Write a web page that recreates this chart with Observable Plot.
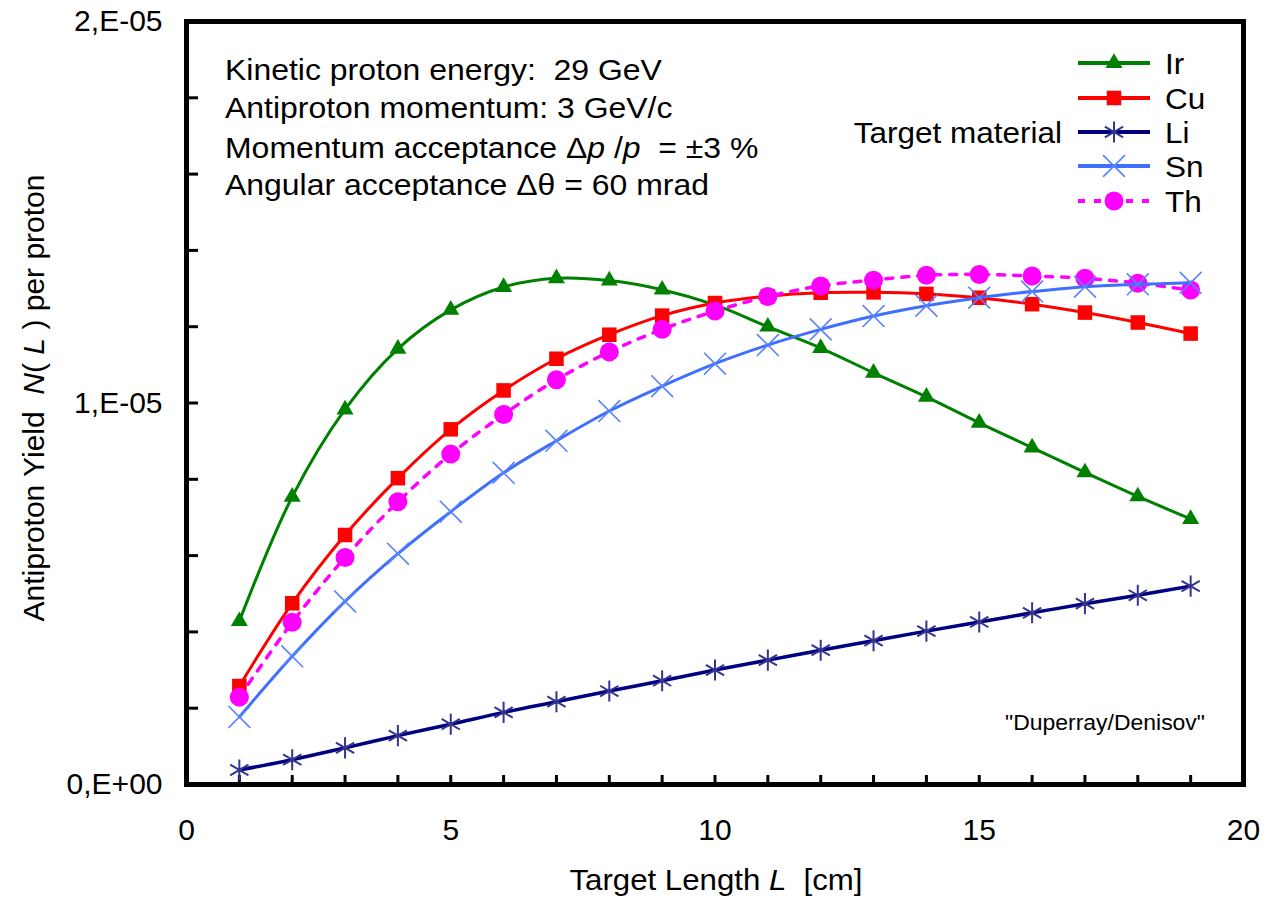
<!DOCTYPE html>
<html>
<head>
<meta charset="utf-8">
<script src="https://cdn.jsdelivr.net/npm/d3@7"></script>
<script src="https://cdn.jsdelivr.net/npm/@observablehq/plot@0.6"></script>
<style>
  html, body { margin: 0; padding: 0; background: #fff; }
  #wrap { position: relative; width: 1266px; height: 902px; font-family: "Liberation Sans", Arial, sans-serif; }
  #overlay { position: absolute; left: 0; top: 0; pointer-events: none; }
  text { white-space: pre; }
</style>
</head>
<body>
<div id="wrap"><div id="chart"></div></div>
<script>
// ---- data (values in units of 1e-6 antiprotons per proton) ----
const targetLength = [1,2,3,4,5,6,7,8,9,10,11,12,13,14,15,16,17,18,19];
const ir = [4.28,7.54,9.83,11.42,12.44,13.04,13.27,13.21,12.97,12.57,12.00,11.44,10.79,10.16,9.48,8.83,8.18,7.55,6.96];
const cu = [2.58,4.75,6.54,8.03,9.31,10.33,11.16,11.79,12.29,12.62,12.80,12.89,12.90,12.86,12.76,12.59,12.37,12.11,11.82];
const li = [0.38,0.65,0.96,1.28,1.58,1.89,2.17,2.45,2.72,3.00,3.26,3.52,3.77,4.02,4.26,4.50,4.74,4.96,5.20];
const sn = [1.77,3.36,4.80,6.05,7.15,8.17,9.01,9.79,10.44,11.03,11.52,11.93,12.28,12.55,12.76,12.92,13.05,13.11,13.15];
const th = [2.29,4.25,5.95,7.41,8.66,9.70,10.61,11.34,11.93,12.41,12.79,13.07,13.22,13.35,13.37,13.33,13.27,13.14,12.96];

const seriesNames = ["Ir","Cu","Li","Sn","Th"];
const seriesColors = {Ir:"#008000", Cu:"#ff0000", Li:"#000080", Sn:"#3f6fff", Th:"#ff00ff"};

const xTickValues = [0,5,10,15,20];
const xMinorTicks = [1,2,3,4,5,6,7,8,9,10,11,12,13,14,15,16,17,18,19];
const yTickValues = [0, 1e-5, 2e-5];
const yTickLabels = ["0,E+00","1,E-05","2,E-05"];
const yMinorTicks = [2e-6,4e-6,6e-6,8e-6,1e-5,1.2e-5,1.4e-5,1.6e-5,1.8e-5];

const infoLines = [
  [["Kinetic proton energy:  29 GeV", false]],
  [["Antiproton momentum: 3 GeV/c", false]],
  [["Momentum acceptance \u0394", false], ["p", true], [" /", false], ["p", true], ["  = \u00b13 %", false]],
  [["Angular acceptance \u0394\u03b8 = 60 mrad", false]]
];
const sourceNote = "\"Duperray/Denisov\"";
const legendTitle = "Target material";

// ---- tables ----
const table = (vals) => targetLength.map((l, i) => ({L: l, v: vals[i] * 1e-6}));
const T = {Ir: table(ir), Cu: table(cu), Li: table(li), Sn: table(sn), Th: table(th)};

const W = 1266, H = 902, mT = 21, mR = 23, mB = 118, mL = 186;
const frameW = W - mL - mR, frameH = H - mT - mB;
const font = "'Liberation Sans', Arial, sans-serif";

const plot = Plot.plot({
  width: W, height: H,
  marginTop: mT, marginRight: mR, marginBottom: mB, marginLeft: mL,
  style: {fontFamily: font, fontSize: "30px", color: "#000", background: "#fff", overflow: "visible"},
  x: {domain: [0, 20]},
  y: {domain: [0, 2e-5]},
  marks: [
    Plot.axisX({ticks: xTickValues, tickFormat: d => String(d), tickSize: 0, tickPadding: 34, fontSize: 30, label: null}),
    Plot.axisY({ticks: yTickValues, tickFormat: d => yTickLabels[yTickValues.indexOf(d)], tickSize: 0, tickPadding: 24, fontSize: 30, label: null}),
    Plot.tickX(xMinorTicks, {x: d => d, insetTop: frameH - 9, stroke: "#000", strokeWidth: 3}),
    Plot.tickY(yMinorTicks, {y: d => d, insetRight: frameW - 12, stroke: "#000", strokeWidth: 3}),
    // Ir
    Plot.line(T.Ir, {x: "L", y: "v", stroke: seriesColors.Ir, strokeWidth: 3, curve: "catmull-rom"}),
    Plot.dot(T.Ir, {x: "L", y: "v", symbol: "triangle", r: 6.3, fill: seriesColors.Ir}),
    // Cu
    Plot.line(T.Cu, {x: "L", y: "v", stroke: seriesColors.Cu, strokeWidth: 3, curve: "catmull-rom"}),
    Plot.dot(T.Cu, {x: "L", y: "v", symbol: "square", r: 8.2, fill: seriesColors.Cu}),
    // Li
    Plot.line(T.Li, {x: "L", y: "v", stroke: seriesColors.Li, strokeWidth: 3.5, curve: "catmull-rom"}),
    Plot.dot(T.Li, {x: "L", y: "v", symbol: "asterisk", r: 10, stroke: "#34348f", strokeWidth: 2}),
    // Th
    Plot.line(T.Th, {x: "L", y: "v", stroke: seriesColors.Th, strokeWidth: 3.5, strokeDasharray: "7,9", curve: "catmull-rom"}),
    Plot.dot(T.Th, {x: "L", y: "v", symbol: "circle", r: 9.5, fill: seriesColors.Th}),
    // Sn
    Plot.line(T.Sn, {x: "L", y: "v", stroke: seriesColors.Sn, strokeWidth: 3, curve: "catmull-rom"}),
    Plot.dot(T.Sn, {x: "L", y: "v", symbol: "times", r: 10, stroke: "#5a82ff", strokeWidth: 1.6}),
    Plot.frame({stroke: "#000", strokeWidth: 5})
  ]
});
document.getElementById("chart").appendChild(plot);

// ---- overlay: annotations, axis titles, legend ----
const ov = d3.select("#wrap").append("svg").attr("id", "overlay")
  .attr("width", W).attr("height", H)
  .style("font-family", font);

// info block (slightly widened like the reference lettering)
const infoBaselines = [80, 118, 158, 195];
infoLines.forEach((parts, i) => {
  const t = ov.append("text").attr("transform", `translate(225,${infoBaselines[i]}) scale(1.065,1)`)
    .attr("font-size", 30).attr("fill", "#000");
  parts.forEach(([s, it]) => t.append("tspan").attr("font-style", it ? "italic" : null).text(s));
});

// x-axis title
const xt = ov.append("text").attr("transform", "translate(716,890) scale(1.04,1)").attr("text-anchor", "middle").attr("font-size", 30);
xt.append("tspan").text("Target Length ");
xt.append("tspan").attr("font-style", "italic").text("L");
xt.append("tspan").text("  [cm]");

// y-axis title
const yt = ov.append("text").attr("transform", "translate(44,398) rotate(-90)").attr("text-anchor", "middle").attr("font-size", 30);
yt.append("tspan").text("Antiproton Yield  ");
yt.append("tspan").attr("font-style", "italic").text("N");
yt.append("tspan").text("( ");
yt.append("tspan").attr("font-style", "italic").text("L");
yt.append("tspan").text(" ) per proton");

// source note
ov.append("text").attr("x", 1005).attr("y", 730).attr("font-size", 22)
  .attr("textLength", 200).attr("lengthAdjust", "spacingAndGlyphs").text(sourceNote);

// legend
const legRows = [63, 98, 132, 166, 201];
const symbolFor = {Ir: d3.symbolTriangle, Cu: d3.symbolSquare, Li: d3.symbolAsterisk, Sn: d3.symbolTimes, Th: d3.symbolCircle};
const symSize = {Ir: Math.PI * 6.3 * 6.3, Cu: Math.PI * 8.2 * 8.2, Li: Math.PI * 10 * 10, Sn: Math.PI * 10 * 10, Th: Math.PI * 9.5 * 9.5};
seriesNames.forEach((name, i) => {
  const y = legRows[i];
  ov.append("line").attr("x1", 1078).attr("x2", 1150).attr("y1", y).attr("y2", y)
    .attr("stroke", seriesColors[name]).attr("stroke-width", 4)
    .attr("stroke-dasharray", name === "Th" ? "7,9" : null);
  const filled = (name === "Ir" || name === "Cu" || name === "Th");
  const p = ov.append("path").attr("transform", `translate(1114,${y})`)
    .attr("d", d3.symbol(symbolFor[name], symSize[name])());
  if (filled) p.attr("fill", seriesColors[name]);
  else p.attr("fill", "none").attr("stroke", name === "Li" ? "#34348f" : "#5a82ff").attr("stroke-width", name === "Li" ? 2 : 1.6);
  ov.append("text").attr("transform", `translate(1165,${y + 11}) scale(1.05,1)`).attr("font-size", 30).text(name);
});
ov.append("text").attr("transform", "translate(1062,143) scale(1.05,1)").attr("text-anchor", "end").attr("font-size", 30).text(legendTitle);
</script>
</body>
</html>
